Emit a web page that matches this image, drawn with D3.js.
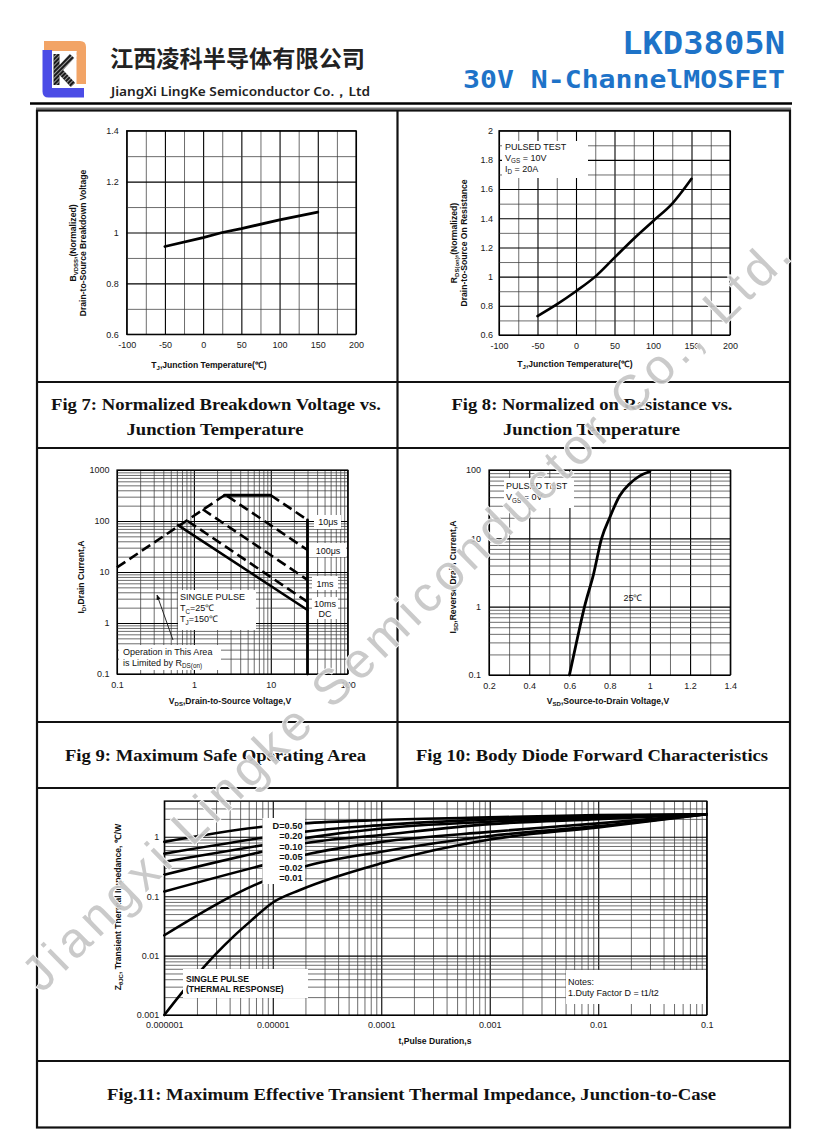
<!DOCTYPE html>
<html>
<head>
<meta charset="utf-8">
<script src="https://cdn.jsdelivr.net/npm/d3@7"></script>
<style>
  body { margin: 0; background: #fff; }
</style>
</head>
<body>
<svg id="page" width="832" height="1144"></svg>
<script>
// ---- data ----
const fig7Temp = [-50, 0, 25, 50, 100, 150];
const fig7Bvdss = [0.945, 0.98, 1.0, 1.015, 1.05, 1.08];
const fig7XTicks = [-100, -50, 0, 50, 100, 150, 200];
const fig7YTicks = [0.6, 0.8, 1, 1.2, 1.4];

const fig8Temp = [-50, -25, 0, 25, 50, 75, 100, 125, 150];
const fig8Rds = [0.73, 0.81, 0.9, 1.0, 1.13, 1.26, 1.38, 1.5, 1.67];
const fig8XTicks = [-100, -50, 0, 50, 100, 150, 200];
const fig8YTicks = [0.6, 0.8, 1, 1.2, 1.4, 1.6, 1.8, 2];

// safe operating area, [Vds, Id]
const soaRdsLimit = [[0.1, 12.3], [2.5, 320]];
const soaCurrentLimit = [[2.5, 320], [10, 320]];
const soa10us = [[10, 320], [30, 105]];
const soa100us = [[2.7, 310], [30, 27]];
const soa1ms = [[1.3, 170], [30, 7]];
const soa10ms = [[0.83, 100], [30, 2.6]];
const soaDC = [[0.62, 83], [30, 1.8]];
const soaVdsMax = [[30, 105], [30, 0.1]];
const fig9XTicks = [0.1, 1, 10, 100];
const fig9YTicks = [0.1, 1, 10, 100, 1000];

const fig10Vsd = [0.6, 0.64, 0.675, 0.72, 0.76, 0.8, 0.85, 0.9, 0.95, 1.0];
const fig10Isd = [0.1, 0.35, 1, 3, 10, 20, 42, 63, 82, 95];
const fig10XTicks = [0.2, 0.4, 0.6, 0.8, 1, 1.2, 1.4];
const fig10YTicks = [0.1, 1, 10, 100];

const zthTime = [1e-6, 8e-6, 1.9e-5, 1e-4, 1e-3, 1e-2, 0.1];
const zthD050 = [0.82, 1.47, 1.68, 1.91, 2.12, 2.32, 2.4];
const zthD020 = [0.52, 0.96, 1.21, 1.57, 1.96, 2.23, 2.4];
const zthD010 = [0.38, 0.72, 0.94, 1.38, 1.79, 2.12, 2.4];
const zthD005 = [0.23, 0.56, 0.77, 1.07, 1.63, 1.98, 2.4];
const zthD002 = [0.12, 0.33, 0.49, 0.82, 1.21, 1.68, 2.4];
const zthD001 = [0.022, 0.175, 0.31, 0.56, 1.03, 1.51, 2.4];
const singleTime = [1e-6, 1.5e-6, 2.13e-6, 3.04e-6, 4.33e-6, 6.17e-6, 1.01e-5, 1.78e-5, 1e-4, 1e-3, 1e-2, 0.1];
const singleZth = [0.001, 0.00255, 0.0054, 0.011, 0.0209, 0.0373, 0.079, 0.127, 0.357, 0.9, 1.44, 2.4];
const dutyLabels = ['D=0.50', '=0.20', '=0.10', '=0.05', '=0.02', '=0.01'];
const fig11XTicks = [1e-6, 1e-5, 1e-4, 1e-3, 1e-2, 0.1];
const fig11YTicks = [0.001, 0.01, 0.1, 1];

// ---- helpers ----
const FONT = '"Liberation Sans", Arial, sans-serif';
const SERIF = '"Liberation Serif", "Times New Roman", serif';
const svg = d3.select('#page');
const zip = (a, b) => a.map((v, i) => [v, b[i]]);

function logGrid(lo, hi) {
  const out = [];
  for (let e = Math.floor(Math.log10(lo)); e <= Math.ceil(Math.log10(hi)); e++) {
    for (let k = 1; k < 10; k++) {
      const v = k * Math.pow(10, e);
      if (v >= lo * 0.999 && v <= hi * 1.001) out.push(v);
    }
  }
  return out;
}

// text with subscripts: parts = [[str], [str, 'sub'], ...]
function rich(t, parts, size) {
  let shifted = false;
  parts.forEach(p => {
    const s = t.append('tspan').text(p[0]);
    if (p[1] === 'sub') {
      s.attr('font-size', size * 0.7);
      if (!shifted) s.attr('dy', size * 0.28);
      shifted = true;
    } else if (shifted) {
      s.attr('dy', -size * 0.28);
      shifted = false;
    }
  });
  return t;
}

function title(g, x, y, parts, rotate, size, weight) {
  const t = g.append('text')
    .attr('transform', `translate(${x},${y})` + (rotate ? ' rotate(-90)' : ''))
    .attr('text-anchor', 'middle')
    .attr('font-family', FONT)
    .attr('font-size', size || 9)
    .attr('font-weight', weight || 'bold')
    .attr('fill', '#111');
  return rich(t, parts, size || 9);
}

function textLines(g, x, y, lines, opt) {
  const o = Object.assign({ size: 9, lh: 11, weight: 'normal', anchor: 'start' }, opt);
  lines.forEach((parts, i) => {
    const t = g.append('text')
      .attr('x', x).attr('y', y + i * o.lh)
      .attr('text-anchor', o.anchor)
      .attr('font-family', FONT)
      .attr('font-size', o.size)
      .attr('font-weight', o.weight)
      .attr('fill', '#111');
    rich(t, parts, o.size);
  });
}

function whiteBox(g, x, y, w, h) {
  g.append('rect').attr('x', x).attr('y', y).attr('width', w).attr('height', h).attr('fill', '#fff');
}

function panel(o) {
  const x = (o.xLog ? d3.scaleLog() : d3.scaleLinear()).domain(o.xDomain).range([o.left, o.right]);
  const y = (o.yLog ? d3.scaleLog() : d3.scaleLinear()).domain(o.yDomain).range([o.bottom, o.top]);
  const w = o.right - o.left, h = o.bottom - o.top;
  const g = svg.append('g');
  const isMajor = (list, v) => list.some(m => Math.abs(m - v) <= Math.abs(m) * 1e-6 + 1e-9);

  const gridX = g.append('g').attr('transform', `translate(0,${o.bottom})`)
    .call(d3.axisBottom(x).tickValues(o.xGrid).tickSize(-h).tickFormat(''));
  const gridY = g.append('g').attr('transform', `translate(${o.left},0)`)
    .call(d3.axisLeft(y).tickValues(o.yGrid).tickSize(-w).tickFormat(''));
  gridX.selectAll('.tick line')
    .attr('stroke', d => isMajor(o.xTicks, d) ? '#000' : '#3c3c3c')
    .attr('stroke-width', d => isMajor(o.xTicks, d) ? 1.1 : 0.75);
  gridY.selectAll('.tick line')
    .attr('stroke', d => isMajor(o.yTicks, d) ? '#000' : '#3c3c3c')
    .attr('stroke-width', d => isMajor(o.yTicks, d) ? 1.1 : 0.75);
  gridX.select('.domain').remove();
  gridY.select('.domain').remove();

  g.append('rect')
    .attr('x', o.left).attr('y', o.top).attr('width', w).attr('height', h)
    .attr('fill', 'none').attr('stroke', '#000').attr('stroke-width', 1.2);

  const ax = g.append('g').attr('transform', `translate(0,${o.bottom})`)
    .call(d3.axisBottom(x).tickValues(o.xTicks).tickSize(0).tickPadding(o.xPad).tickFormat(String));
  const ay = g.append('g').attr('transform', `translate(${o.left},0)`)
    .call(d3.axisLeft(y).tickValues(o.yTicks).tickSize(0).tickPadding(o.yPad).tickFormat(String));
  [ax, ay].forEach(a => {
    a.select('.domain').remove();
    a.attr('font-family', FONT).attr('font-size', 9);
    a.selectAll('text').attr('fill', '#1a1a1a');
  });
  return { g, x, y };
}

function curve(p, data, opt) {
  const o = Object.assign({ width: 2.6, dash: null, smooth: true }, opt);
  const line = d3.line().x(d => p.x(d[0])).y(d => p.y(d[1]));
  if (o.smooth) line.curve(d3.curveMonotoneX);
  p.g.append('path')
    .attr('d', line(data))
    .attr('fill', 'none')
    .attr('stroke', '#000')
    .attr('stroke-width', o.width)
    .attr('stroke-dasharray', o.dash)
    .attr('stroke-linecap', o.dash ? 'butt' : 'round');
}

// ---- header ----
const defs = svg.append('defs');
defs.append('pattern').attr('id', 'hatch').attr('patternUnits', 'userSpaceOnUse')
  .attr('width', 3).attr('height', 3).attr('patternTransform', 'rotate(45)')
  .append('rect').attr('width', 1).attr('height', 3).attr('fill', '#fff');

const logo = svg.append('g');
logo.append('path').attr('d', 'M44,41 L80,41 Q86,41 86,47 L86,84 L76.5,84 L76.5,51 L44,51 Z').attr('fill', '#f2a466');
logo.append('path').attr('d', 'M42.5,50 L52,50 L52,88 L84,88 L84,97.5 L48.5,97.5 Q42.5,97.5 42.5,91.5 Z').attr('fill', '#4b4ce6');
logo.append('path').attr('d', 'M60,51 L76.5,51 L76.5,60 L60,60 Z M52,78 L66,78 L66,88 L52,88 Z').attr('fill', 'url(#hatch)').attr('opacity', 0.9);
logo.append('path').attr('d', 'M56.5,54 L56.5,85 M72,56 L59,70 L73,85')
  .attr('fill', 'none').attr('stroke', '#1a1a1a').attr('stroke-width', 6).attr('stroke-linejoin', 'miter');
logo.append('path').attr('d', 'M56.5,54 L56.5,85 M72,56 L59,70 L73,85')
  .attr('fill', 'none').attr('stroke', 'url(#hatch)').attr('stroke-width', 6).attr('opacity', 0.55);

svg.append('text').attr('x', 110).attr('y', 67)
  .attr('font-family', '"Noto Sans CJK SC", sans-serif').attr('font-weight', 'bold')
  .attr('font-size', 23).attr('textLength', 255).attr('lengthAdjust', 'spacingAndGlyphs')
  .attr('fill', '#222').text('江西凌科半导体有限公司');
svg.append('text').attr('x', 111).attr('y', 95.5)
  .attr('font-family', '"Noto Sans", "Open Sans", sans-serif').attr('font-weight', 600)
  .attr('font-size', 12.5).attr('textLength', 259).attr('lengthAdjust', 'spacingAndGlyphs')
  .attr('fill', '#222').text('JiangXi LingKe Semiconductor Co.，Ltd');

svg.append('text').attr('x', 785).attr('y', 53.5).attr('text-anchor', 'end')
  .attr('font-family', '"DejaVu Sans Mono", monospace').attr('font-weight', 'bold')
  .attr('font-size', 32).attr('textLength', 163).attr('lengthAdjust', 'spacingAndGlyphs')
  .attr('fill', '#1e73c8').text('LKD3805N');
svg.append('text').attr('x', 785).attr('y', 88).attr('text-anchor', 'end')
  .attr('font-family', '"DejaVu Sans Mono", monospace').attr('font-weight', 'bold')
  .attr('font-size', 25).attr('textLength', 322).attr('lengthAdjust', 'spacingAndGlyphs')
  .attr('fill', '#1e73c8').text('30V N-ChannelMOSFET');

svg.append('line').attr('x1', 30).attr('x2', 792).attr('y1', 103.5).attr('y2', 103.5)
  .attr('stroke', '#000').attr('stroke-width', 2.5);
svg.append('line').attr('x1', 36).attr('x2', 791).attr('y1', 108.5).attr('y2', 108.5)
  .attr('stroke', '#777').attr('stroke-width', 2);

// ---- table frame ----
const frame = svg.append('g').attr('stroke', '#111').attr('stroke-width', 2.2).attr('fill', 'none');
frame.append('rect').attr('x', 37).attr('y', 110.5).attr('width', 753).attr('height', 1017);
[382, 448, 722, 788, 1061].forEach(yy => {
  frame.append('line').attr('x1', 37).attr('x2', 790).attr('y1', yy).attr('y2', yy);
});
frame.append('line').attr('x1', 397.5).attr('x2', 397.5).attr('y1', 110.5).attr('y2', 788);

// ---- Fig 7 ----
const p7 = panel({
  left: 126.7, right: 356, top: 130.7, bottom: 334.3,
  xDomain: [-100, 200], yDomain: [0.6, 1.4],
  xGrid: d3.range(-100, 201, 25), yGrid: d3.range(0.6, 1.4001, 0.1),
  xTicks: fig7XTicks, yTicks: fig7YTicks, xPad: 7, yPad: 8
});
curve(p7, zip(fig7Temp, fig7Bvdss), { width: 2.8, smooth: false });
title(p7.g, 76, 243, [['B'], ['VDSS', 'sub'], [',(Normalized)']], true, 8.6);
title(p7.g, 86, 243, [['Drain-to-Source Breakdown Voltage']], true, 8.6);
title(p7.g, 209, 368, [['T'], ['J', 'sub'], [',Junction Temperature(℃)']], false, 8.6);

// ---- Fig 8 ----
const p8 = panel({
  left: 499, right: 730, top: 130.7, bottom: 335,
  xDomain: [-100, 200], yDomain: [0.6, 2],
  xGrid: d3.range(-100, 201, 25), yGrid: d3.range(0.6, 2.0001, 0.1),
  xTicks: fig8XTicks, yTicks: fig8YTicks, xPad: 8, yPad: 6
});
curve(p8, zip(fig8Temp, fig8Rds), { width: 2.6 });
whiteBox(p8.g, 502, 141, 86, 37);
textLines(p8.g, 505, 149.5, [[['PULSED TEST']], [['V'], ['GS', 'sub'], [' = 10V']], [['I'], ['D', 'sub'], [' = 20A']]], { lh: 11 });
title(p8.g, 457, 243, [['R'], ['DS(on)', 'sub'], [',(Normalized)']], true, 8.6);
title(p8.g, 467, 243, [['Drain-to-Source On Resistance']], true, 8.6);
title(p8.g, 575, 367, [['T'], ['J', 'sub'], [',Junction Temperature(℃)']], false, 8.6);

// ---- Fig 9 ----
const p9 = panel({
  left: 117, right: 347.7, top: 470, bottom: 674,
  xDomain: [0.1, 100], yDomain: [0.1, 1000], xLog: true, yLog: true,
  xGrid: logGrid(0.1, 100), yGrid: logGrid(0.1, 1000),
  xTicks: fig9XTicks, yTicks: fig9YTicks, xPad: 7.5, yPad: 7.5
});
const dash = '10,5';
curve(p9, soaRdsLimit, { dash, smooth: false });
curve(p9, soaCurrentLimit, { smooth: false, width: 2.8 });
curve(p9, soa10us, { dash, smooth: false });
curve(p9, soa100us, { dash, smooth: false });
curve(p9, soa1ms, { dash, smooth: false });
curve(p9, soa10ms, { dash, smooth: false });
curve(p9, soaDC, { smooth: false });
curve(p9, soaVdsMax, { smooth: false, width: 2.8 });

whiteBox(p9.g, 314, 515, 27, 14);
whiteBox(p9.g, 309, 543, 37, 14);
whiteBox(p9.g, 312, 576, 26, 14);
whiteBox(p9.g, 312, 597, 26, 22);
textLines(p9.g, 328, 525, [[['10μs']]], { anchor: 'middle' });
textLines(p9.g, 328, 554, [[['100μs']]], { anchor: 'middle' });
textLines(p9.g, 325, 586.5, [[['1ms']]], { anchor: 'middle' });
textLines(p9.g, 325, 607, [[['10ms']], [['DC']]], { anchor: 'middle', lh: 9.5 });

whiteBox(p9.g, 178, 590, 78, 40);
textLines(p9.g, 180, 600, [[['SINGLE PULSE']], [['T'], ['C', 'sub'], ['=25℃']], [['T'], ['J', 'sub'], ['=150℃']]], { lh: 11 });
whiteBox(p9.g, 119, 645, 102, 25);
textLines(p9.g, 123, 655, [[['Operation in This Area']], [['is Limited by R'], ['DS(on)', 'sub']]], { lh: 10.5 });

defs.append('marker').attr('id', 'arrow').attr('viewBox', '0 0 10 10').attr('refX', 9).attr('refY', 5)
  .attr('markerWidth', 6).attr('markerHeight', 6).attr('orient', 'auto')
  .append('path').attr('d', 'M0,1 L10,5 L0,9 Z').attr('fill', '#111');
p9.g.append('line').attr('x1', 173).attr('y1', 640).attr('x2', 157).attr('y2', 595)
  .attr('stroke', '#111').attr('stroke-width', 0.9).attr('marker-end', 'url(#arrow)');

title(p9.g, 84, 577, [['I'], ['D', 'sub'], [',Drain Current,A']], true, 8.6);
title(p9.g, 230, 703.5, [['V'], ['DS', 'sub'], [',Drain-to-Source Voltage,V']], false, 8.6);

// ---- Fig 10 ----
const p10 = panel({
  left: 489, right: 730.3, top: 470, bottom: 675,
  xDomain: [0.2, 1.4], yDomain: [0.1, 100], yLog: true,
  xGrid: d3.range(0.2, 1.4001, 0.1), yGrid: logGrid(0.1, 100),
  xTicks: fig10XTicks, yTicks: fig10YTicks, xPad: 7.5, yPad: 8
});
curve(p10, zip(fig10Vsd, fig10Isd), { width: 2.8 });
whiteBox(p10.g, 504, 478, 70, 30);
textLines(p10.g, 506, 488.5, [[['PULSED TEST']], [['V'], ['GS', 'sub'], [' = 0V']]], { lh: 11.5 });
textLines(p10.g, 633, 601, [[['25℃']]], { anchor: 'middle' });
title(p10.g, 456, 577, [['I'], ['SD', 'sub'], [',Reverse Drain Current,A']], true, 8.6);
title(p10.g, 608, 704, [['V'], ['SD', 'sub'], [',Source-to-Drain Voltage,V']], false, 8.6);

// ---- Fig 11 ----
const p11 = panel({
  left: 164.3, right: 706.7, top: 801, bottom: 1015,
  xDomain: [1e-6, 0.1], yDomain: [0.001, 4], xLog: true, yLog: true,
  xGrid: logGrid(1e-6, 0.1), yGrid: logGrid(0.001, 4),
  xTicks: fig11XTicks, yTicks: fig11YTicks, xPad: 7, yPad: 5
});
[zthD050, zthD020, zthD010, zthD005, zthD002, zthD001].forEach(series => {
  curve(p11, zip(zthTime, series), { width: 2.6 });
});
curve(p11, zip(singleTime, singleZth), { width: 2.6 });
whiteBox(p11.g, 262.5, 818, 42.5, 66);
textLines(p11.g, 302.5, 828.5, dutyLabels.map(s => [[s]]), { anchor: 'end', weight: 'bold', size: 9.2, lh: 10.5 });
whiteBox(p11.g, 183, 969, 125, 29);
textLines(p11.g, 186, 981.5, [[['SINGLE PULSE']], [['(THERMAL RESPONSE)']]], { weight: 'bold', size: 8.6, lh: 10.8 });
whiteBox(p11.g, 566, 970, 140, 34);
textLines(p11.g, 568, 985, [[['Notes:']], [['1.Duty Factor D = t1/t2']]], { lh: 10.8 });
title(p11.g, 121, 907, [['Z'], ['θJC', 'sub'], [', Transient Thermal Impedance, ℃/W']], true, 8.6);
title(p11.g, 435, 1043.5, [['t,Pulse Duration,s']], false, 8.6);

// ---- captions ----
function caption(cx, y, str, len) {
  svg.append('text').attr('x', cx).attr('y', y).attr('text-anchor', 'middle')
    .attr('font-family', SERIF).attr('font-weight', 'bold').attr('font-size', 17.5)
    .attr('textLength', len).attr('lengthAdjust', 'spacingAndGlyphs')
    .attr('fill', '#111').text(str);
}
caption(216, 410, 'Fig 7: Normalized Breakdown Voltage vs.', 330);
caption(215, 435, 'Junction Temperature', 177);
caption(592, 410, 'Fig 8: Normalized on Resistance vs.', 281);
caption(591.5, 435, 'Junction Temperature', 177);
caption(215.5, 761, 'Fig 9: Maximum Safe Operating Area', 301);
caption(592, 761, 'Fig 10: Body Diode Forward Characteristics', 352);
caption(411.5, 1100, 'Fig.11: Maximum Effective Transient Thermal Impedance, Junction-to-Case', 609);

// ---- watermark ----
svg.append('text')
  .attr('transform', 'translate(42,994) rotate(-44.4)')
  .attr('font-family', FONT).attr('font-size', 50)
  .attr('textLength', 1052).attr('lengthAdjust', 'spacing')
  .attr('fill', '#c4c4c4').attr('fill-opacity', 0.9)
  .attr('stroke', '#fff').attr('stroke-width', 1.4)
  .attr('paint-order', 'stroke')
  .text('Jiangxi Lingke Semiconductor Co., Ltd.');
</script>
</body>
</html>
